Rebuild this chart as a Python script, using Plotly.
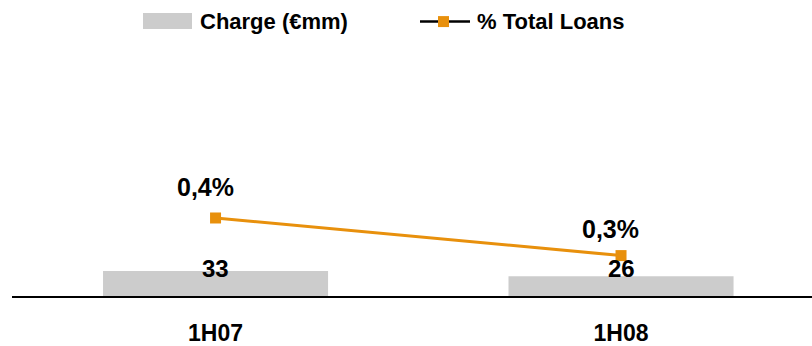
import plotly.graph_objects as go

# Chart data
periods = ["1H07", "1H08"]
charge_mm = [33, 26]
pct_total_loans = [0.4, 0.3]
charge_labels = ["33", "26"]
pct_labels = ["0,4%", "0,3%"]

BAR_GREY = "#CCCCCC"
ORANGE = "#E8900C"
FONT = "Liberation Sans, Arial, sans-serif"

W, H = 812, 346
ML, MT, MB = 12, 60, 49.5
PW, PH = W - ML, H - MT - MB

xs = list(range(len(periods)))

fig = go.Figure()

fig.add_trace(go.Bar(
    x=xs, y=charge_mm, width=0.555,
    marker=dict(color=BAR_GREY, line=dict(width=0)),
    name="Charge (€mm)", showlegend=False, yaxis="y",
))

fig.add_trace(go.Scatter(
    x=xs, y=pct_total_loans, mode="lines+markers",
    line=dict(color=ORANGE, width=3),
    marker=dict(symbol="square", size=11, color=ORANGE),
    name="% Total Loans", showlegend=False, yaxis="y2",
))

annotations = []
# value labels on the bars
bar_shift = [2, 8]
for i, (v, t) in enumerate(zip(charge_mm, charge_labels)):
    annotations.append(dict(
        x=i, y=v, xref="x", yref="y", text=t, showarrow=False,
        yanchor="middle", xanchor="center", yshift=bar_shift[i],
        font=dict(family=FONT, size=24, color="black", weight="bold"),
    ))
# value labels on the line
line_shift = [(-10, 31), (-11, 27)]
for i, (v, t) in enumerate(zip(pct_total_loans, pct_labels)):
    dx, dy = line_shift[i]
    annotations.append(dict(
        x=i, y=v, xref="x", yref="y2", text=t, showarrow=False,
        yanchor="middle", xanchor="center", xshift=dx, yshift=dy,
        font=dict(family=FONT, size=25, color="black", weight="bold"),
    ))


# legend drawn at the top (pixel positions converted to paper coords)
def px(x):
    return (x - ML) / PW


def py(y):
    return (H - MB - y) / PH


shapes = [
    dict(type="rect", xref="paper", yref="paper",
         x0=px(143), x1=px(192), y0=py(13), y1=py(29),
         fillcolor=BAR_GREY, line=dict(width=0)),
    dict(type="line", xref="paper", yref="paper",
         x0=px(420), x1=px(470), y0=py(21.5), y1=py(21.5),
         line=dict(color="black", width=2.5)),
    dict(type="rect", xref="paper", yref="paper",
         x0=px(438), x1=px(449), y0=py(16), y1=py(27),
         fillcolor=ORANGE, line=dict(width=0)),
]
for x0, label in [(198, "Charge (€mm)"), (475, "% Total Loans")]:
    annotations.append(dict(
        xref="paper", yref="paper", x=px(x0), y=py(21),
        text=label, showarrow=False, xanchor="left", yanchor="middle",
        font=dict(family=FONT, size=22, color="black", weight="bold"),
    ))

fig.update_layout(
    width=W, height=H,
    margin=dict(l=ML, r=0, t=MT, b=MB, autoexpand=False),
    paper_bgcolor="white", plot_bgcolor="white",
    showlegend=False,
    xaxis=dict(
        range=[-0.502, 1.471], tickmode="array", tickvals=xs, ticktext=periods,
        showline=True, linecolor="black", linewidth=2, showgrid=False,
        zeroline=False, ticks="", ticklabelstandoff=15, automargin=False,
        tickfont=dict(family=FONT, size=23, color="black", weight="bold"),
    ),
    yaxis=dict(range=[0, 311], visible=False, showgrid=False, zeroline=False),
    yaxis2=dict(range=[0.1926, 0.820], overlaying="y", visible=False,
                showgrid=False, zeroline=False),
    shapes=shapes,
    annotations=annotations,
)

fig.write_html("out.html")
